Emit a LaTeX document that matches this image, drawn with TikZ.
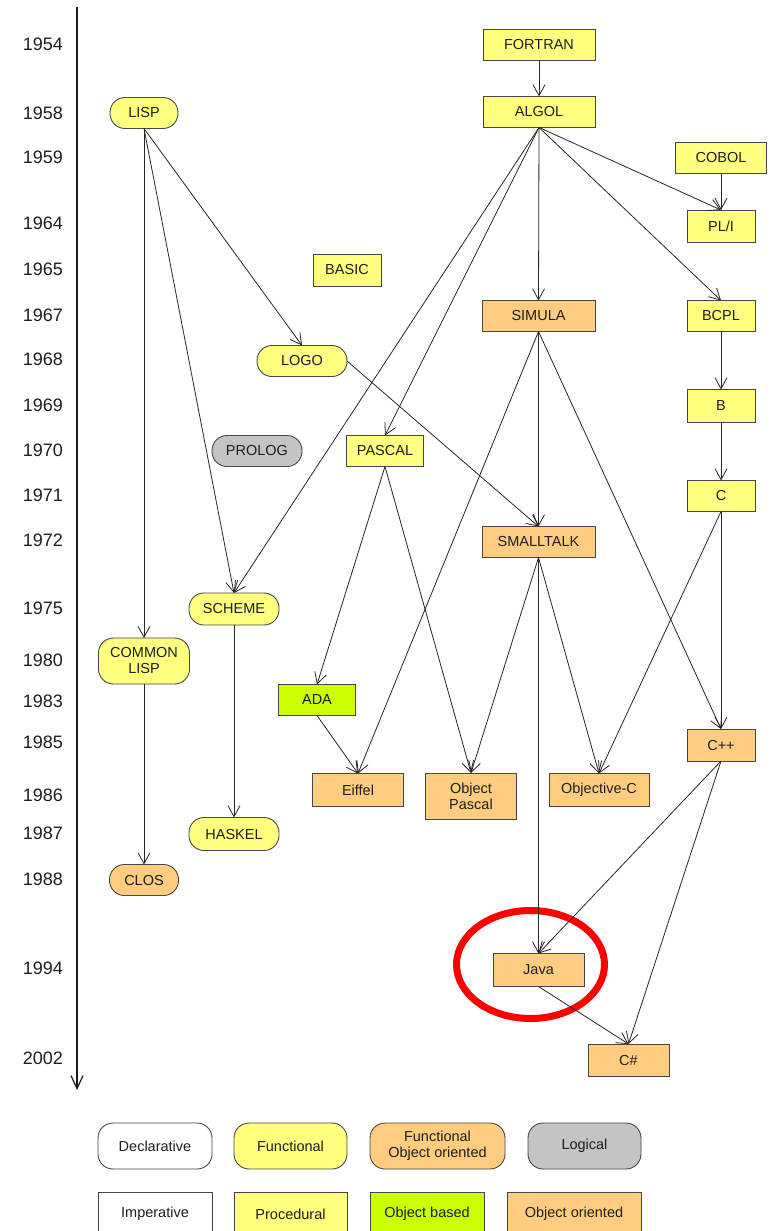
\documentclass[tikz,border=0pt]{standalone}
\usepackage{fontspec}
\setmainfont{Liberation Sans}
\usetikzlibrary{arrows.meta}
\definecolor{cyel}{RGB}{255,255,128}
\definecolor{corg}{RGB}{255,204,128}
\definecolor{cgrn}{RGB}{204,255,0}
\definecolor{cgry}{RGB}{196,196,196}
\definecolor{cbrd}{RGB}{70,70,70}
\definecolor{ctxt}{RGB}{30,30,30}
\tikzset{
  lang/.style={draw=cbrd, line width=0.9pt, inner sep=0pt, outer sep=0pt,
    font=\fontsize{14.5}{16}\selectfont, align=center, text=ctxt},
  rectbox/.style={lang, rectangle},
  pillbox/.style={lang, rectangle, rounded corners=15pt},
  yel/.style={fill=cyel},
  org/.style={fill=corg},
  grn/.style={fill=cgrn},
  gry/.style={fill=cgry},
  wht/.style={fill=white},
  sz/.style 2 args={minimum width=#1pt, minimum height=#2pt},
  link/.style={-{Straight Barb[length=11pt,width=12pt]}, line width=0.8pt, draw=black!85},
  year/.style={anchor=east, inner sep=0pt, font=\fontsize{18}{20}\selectfont, text=ctxt},
}
\begin{document}
\begin{tikzpicture}[x=1pt,y=-1pt]
\clip (0,0) rectangle (773,1231);
\fill[white] (0,0) rectangle (773,1231);

% time axis
\coordinate (axtop) at (77,7);
\coordinate (axbot) at (77,1090);
\draw[line width=1.2pt, draw=black!90, -{Straight Barb[length=13pt,width=12pt]}] (axtop) -- (axbot);

% year labels
\node[year] (y1954) at (63,44) {1954};
\node[year] (y1958) at (63,113) {1958};
\node[year] (y1959) at (63,157) {1959};
\node[year] (y1964) at (63,223) {1964};
\node[year] (y1965) at (63,269) {1965};
\node[year] (y1967) at (63,315) {1967};
\node[year] (y1968) at (63,359) {1968};
\node[year] (y1969) at (63,405) {1969};
\node[year] (y1970) at (63,450) {1970};
\node[year] (y1971) at (63,495) {1971};
\node[year] (y1972) at (63,540) {1972};
\node[year] (y1975) at (63,608) {1975};
\node[year] (y1980) at (63,660) {1980};
\node[year] (y1983) at (63,701) {1983};
\node[year] (y1985) at (63,742) {1985};
\node[year] (y1986) at (63,795) {1986};
\node[year] (y1987) at (63,833) {1987};
\node[year] (y1988) at (63,879) {1988};
\node[year] (y1994) at (63,968) {1994};
\node[year] (y2002) at (63,1058) {2002};

% red highlight
\draw[red, line width=7pt] (530.5,964.5) ellipse [x radius=74, y radius=54];

% languages
\node[rectbox, yel, sz={112}{31}] (fortran) at (539,45) {FORTRAN};
\node[rectbox, yel, sz={112}{31}] (algol) at (539,112) {ALGOL};
\node[rectbox, yel, sz={91}{31}] (cobol) at (721,158) {COBOL};
\node[rectbox, yel, sz={68}{32}] (pli) at (721,226) {PL/I};
\node[pillbox, yel, sz={68}{31}] (lisp) at (144,113) {LISP};
\node[rectbox, yel, sz={68}{32}] (basic) at (347,270) {BASIC};
\node[rectbox, org, sz={113}{31}] (simula) at (538.5,316) {SIMULA};
\node[rectbox, yel, sz={68}{31}] (bcpl) at (721,316) {BCPL};
\node[pillbox, yel, sz={90}{31}] (logo) at (302,361) {LOGO};
\node[rectbox, yel, sz={68}{33}] (b) at (721,406) {B};
\node[pillbox, gry, sz={90}{31}] (prolog) at (257,451) {PROLOG};
\node[rectbox, yel, sz={77}{31}] (pascal) at (385,451) {PASCAL};
\node[rectbox, yel, sz={68}{31}] (c) at (721,496) {C};
\node[rectbox, org, sz={113}{31}] (smalltalk) at (538.5,542) {SMALLTALK};
\node[pillbox, yel, sz={90}{32}] (scheme) at (234,609) {SCHEME};
\node[pillbox, yel, sz={91}{46}] (commonlisp) at (144,661) {COMMON\\LISP};
\node[rectbox, grn, sz={77}{31}] (ada) at (317,700) {ADA};
\node[rectbox, org, sz={68}{32}] (cpp) at (721,745) {C++};
\node[rectbox, org, sz={91}{33}] (eiffel) at (358,790) {Eiffel};
\node[rectbox, org, sz={91}{46}] (objpascal) at (471,796) {Object\\Pascal};
\node[rectbox, org, sz={100}{33}] (objc) at (599,790) {Objective-C};
\node[pillbox, yel, sz={90}{33}] (haskel) at (234,834) {HASKEL};
\node[pillbox, org, sz={69}{31}] (clos) at (144,880) {CLOS};
\node[rectbox, org, sz={91}{33}] (java) at (538.5,970) {Java};
\node[rectbox, org, sz={81}{32}] (csharp) at (628.5,1060) {C\#};

% connectors
\draw[link] (fortran.south) -- (algol.north);
\draw[link] (algol.south) -- (pli.north);
\draw[link] (cobol.south) -- (pli.north);
\draw[link] (algol.south) -- (bcpl.north);
\draw[link] (algol.south) -- (simula.north);
\draw[link] (algol.south) -- (pascal.north);
\draw[link] (algol.south) -- (scheme.north);
\draw[link] (lisp.south) -- (logo.north);
\draw[link] (lisp.south) -- (scheme.north);
\draw[link] (lisp.south) -- (commonlisp.north);
\draw[link] (logo.east) -- (smalltalk.north);
\draw[link] (bcpl.south) -- (b.north);
\draw[link] (b.south) -- (c.north);
\draw[link] (c.south) -- (cpp.north);
\draw[link] (c.south) -- (objc.north);
\draw[link] (simula.south) -- (smalltalk.north);
\draw[link] (simula.south) -- (eiffel.north);
\draw[link] (simula.south) -- (cpp.north);
\draw[link] (pascal.south) -- (ada.north);
\draw[link] (pascal.south) -- (objpascal.north);
\draw[link] (ada.south) -- (eiffel.north);
\draw[link] (smalltalk.south) -- (objpascal.north);
\draw[link] (smalltalk.south) -- (objc.north);
\draw[link] (smalltalk.south) -- (java.north);
\draw[link] (cpp.south) -- (java.north);
\draw[link] (cpp.south) -- (csharp.north);
\draw[link] (java.south) -- (csharp.north);
\draw[link] (scheme.south) -- (haskel.north);
\draw[link] (commonlisp.south) -- (clos.north);

% legend
\node[pillbox, wht, sz={114}{46}] (lgdecl) at (155,1146) {Declarative};
\node[pillbox, yel, sz={113}{46}] (lgfunc) at (290.5,1146) {Functional};
\node[pillbox, org, sz={135}{46}] (lgfoo) at (437.5,1146) {Functional\\Object oriented};
\node[pillbox, gry, sz={113}{46}] (lglog) at (584.5,1146) {Logical};
\node[rectbox, wht, sz={114}{44}] (lgimp) at (155,1214) {Imperative};
\node[rectbox, yel, sz={113}{44}] (lgproc) at (290.5,1214) {Procedural};
\node[rectbox, grn, sz={114}{44}] (lgob) at (427,1214) {Object based};
\node[rectbox, org, sz={134}{44}] (lgoo) at (574,1214) {Object oriented};
\end{tikzpicture}
\end{document}
